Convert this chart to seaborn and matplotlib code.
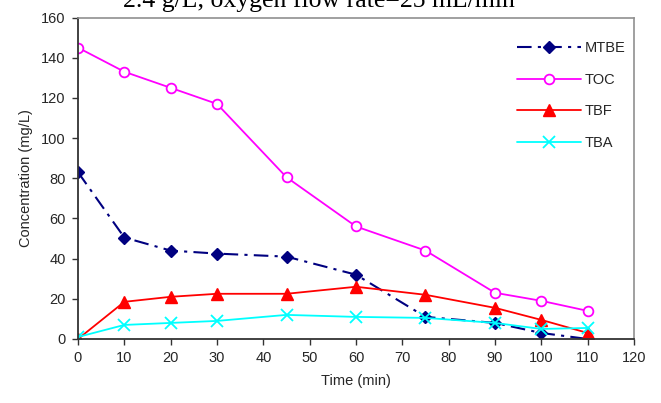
import matplotlib
matplotlib.use("Agg")
import matplotlib.pyplot as plt
import seaborn as sns

time_min = [0, 10, 20, 30, 45, 60, 75, 90, 100, 110]
mtbe = [83, 50.5, 44, 42.5, 41, 32, 11, 8, 3, 0]
toc = [145, 133, 125, 117, 80.5, 56, 44, 23, 19, 14]
tbf = [0, 18.5, 21, 22.5, 22.5, 26, 22, 15.5, 9.5, 3]
tba = [1, 7, 8, 9, 12, 11, 10.5, 8, 5, 5.5]
series_names = ["MTBE", "TOC", "TBF", "TBA"]

x_ticks = list(range(0, 121, 10))
y_ticks = list(range(0, 161, 20))

sns.set_theme(style="white")
plt.rcParams["font.family"] = ["Liberation Sans", "DejaVu Sans"]

fig = plt.figure(figsize=(6.61, 4.03), dpi=100)
ax = fig.add_axes([78 / 661, 1 - 339 / 403, (634 - 78) / 661, (339 - 17.5) / 403])

styles = {
    "MTBE": dict(color="#000080", marker="D", markersize=6,
                 markeredgecolor="#000080", markeredgewidth=1.0, linewidth=1.5,
                 linestyle=(0, (7, 3, 1.5, 3))),
    "TOC": dict(color="#FF00FF", marker="o", markersize=7,
                markerfacecolor="white", markeredgecolor="#FF00FF",
                markeredgewidth=1.3, linewidth=1.3),
    "TBF": dict(color="#FF0000", marker="^", markersize=8,
                markeredgecolor="#FF0000", markeredgewidth=1.0, linewidth=1.3),
    "TBA": dict(color="#00FFFF", marker="x", markersize=8,
                markeredgecolor="#00FFFF", markeredgewidth=1.3, linewidth=1.3),
}

for name, values in zip(series_names, [mtbe, toc, tbf, tba]):
    sns.lineplot(x=time_min, y=values, ax=ax, legend=False, **styles[name])

handles = list(ax.lines[:4])

ax.set_xlim(0, 120)
ax.set_ylim(0, 160)
ax.set_xticks(x_ticks)
ax.set_yticks(y_ticks)
ax.tick_params(axis="both", which="major", labelsize=10.5, length=4,
               width=1, direction="out", color="#333333", pad=5,
               bottom=True, left=True)

for side in ("left", "bottom"):
    ax.spines[side].set_color("#333333")
    ax.spines[side].set_linewidth(1.3)
for side in ("top", "right"):
    ax.spines[side].set_color("#909090")
    ax.spines[side].set_linewidth(1.2)

ax.set_xlabel("Time (min)", fontsize=10.5, labelpad=6)
ax.set_ylabel("Concentration (mg/L)", fontsize=10.5, labelpad=6)

ax.legend(handles, series_names, loc="upper right",
          bbox_to_anchor=(1.008, 0.968), frameon=False,
          fontsize=10.5, handlelength=4.4, labelspacing=1.22,
          handletextpad=0.25)

fig.text(123 / 661, 1 - 7.5 / 403, "2.4 g/L, oxygen flow rate=25 mL/min",
         family=["Liberation Serif", "DejaVu Serif"], fontsize=18.5,
         ha="left", va="baseline", color="black")

fig.savefig("out.png", dpi=100)
